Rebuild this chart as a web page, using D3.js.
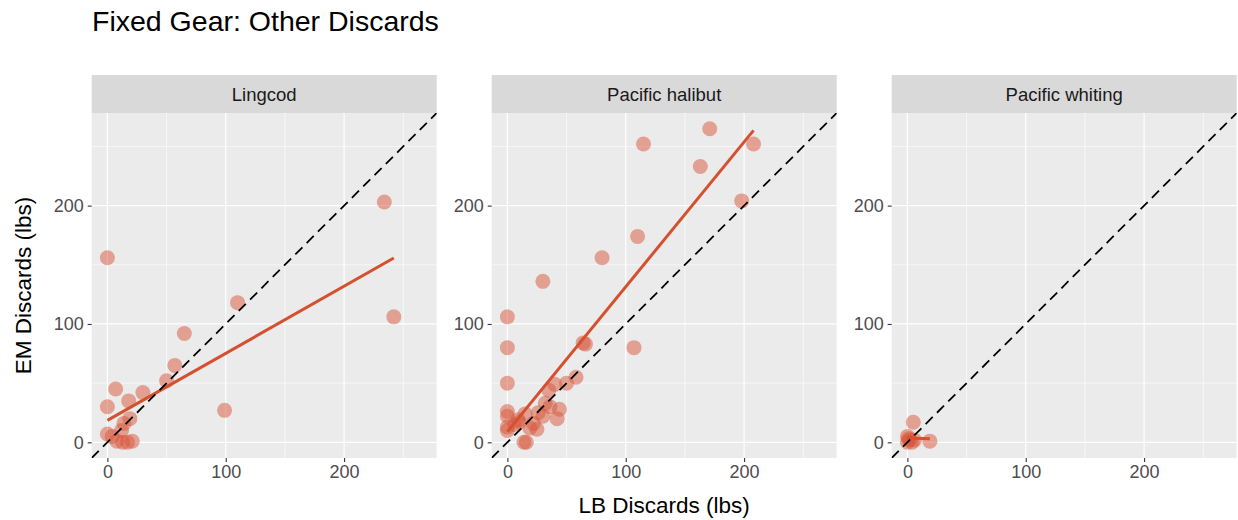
<!DOCTYPE html>
<html>
<head>
<meta charset="utf-8">
<script src="https://cdn.jsdelivr.net/npm/d3@7"></script>
<style>
  html, body { margin: 0; padding: 0; background: #ffffff; }
  svg { display: block; font-family: "Liberation Sans", Arial, sans-serif; }
</style>
</head>
<body>
<svg id="chart" width="1238" height="520"></svg>
<script>
// ---------- data ----------
const titleText = "Fixed Gear: Other Discards";
const species = ["Lingcod", "Pacific halibut", "Pacific whiting"];
const xTitle = "LB Discards (lbs)";
const yTitle = "EM Discards (lbs)";

const lingcodLB = [0, 234, 242, 110, 65, 57, 50, 99, 7, 30, 18, 0, 19, 14, 12, 0, 4, 8, 13, 21, 17];
const lingcodEM = [156, 203, 106, 118, 92, 65, 52, 27, 45, 42, 35, 30, 20, 16, 10, 7, 5, 1, 0, 1, 0];

const halibutLB = [171, 115, 208, 163, 198, 110, 80, 30, 0, 0, 107, 64, 66, 0, 58, 50, 40, 35, 32, 44, 42, 26, 22, 25, 19, 14, 16, 0, 0, 0, 0, 9, 6, 30, 36, 15, 10];
const halibutEM = [265, 252, 252, 233, 204, 174, 156, 136, 106, 80, 80, 84, 83, 50, 55, 50, 49, 44, 33, 28, 20, 25, 16, 11, 12, 0, 0, 26, 22, 13, 10, 19, 15, 22, 30, 24, 17];

const whitingLB = [5, 0, 2, 0, 6, 4, 19, 1];
const whitingEM = [17, 5, 2, 0, 2, 0, 1, 3];

// linear fits (geom_smooth, method = "lm")
const fitIntercept = [18.5, 9, 3.6];
const fitSlope = [0.567, 1.224, -0.03];

const axisLimits = [-13.25, 278.25];
const majorTicks = [0, 100, 200];
const minorTicks = [50, 150, 250];

const panelsData = [
  { lb: lingcodLB, em: lingcodEM },
  { lb: halibutLB, em: halibutEM },
  { lb: whitingLB, em: whitingEM }
];

// ---------- layout ----------
const svg = d3.select("#chart");
const panelW = 345, panelH = 345;
const panelLefts = [91.7, 491.7, 891.7];
const panelTop = 113;
const stripH = 38;

const pointColor = "#d8553a";
const lineColor = "#d4502f";

const x = d3.scaleLinear().domain(axisLimits).range([0, panelW]);
const y = d3.scaleLinear().domain(axisLimits).range([panelH, 0]);

// title
svg.append("text")
  .attr("x", 92).attr("y", 31)
  .attr("font-size", 28.5).attr("fill", "#000")
  .text(titleText);

species.forEach((name, i) => {
  const g = svg.append("g").attr("transform", `translate(${panelLefts[i]},${panelTop})`);
  const d = panelsData[i];

  const clipId = "clip" + i;
  g.append("clipPath").attr("id", clipId)
    .append("rect").attr("width", panelW).attr("height", panelH);

  g.append("rect").attr("width", panelW).attr("height", panelH).attr("fill", "#ebebeb");

  g.selectAll(".minx").data(minorTicks).enter().append("line")
    .attr("x1", v => x(v)).attr("x2", v => x(v)).attr("y1", 0).attr("y2", panelH)
    .attr("stroke", "#fff").attr("stroke-width", 0.6);
  g.selectAll(".miny").data(minorTicks).enter().append("line")
    .attr("y1", v => y(v)).attr("y2", v => y(v)).attr("x1", 0).attr("x2", panelW)
    .attr("stroke", "#fff").attr("stroke-width", 0.6);
  g.selectAll(".majx").data(majorTicks).enter().append("line")
    .attr("x1", v => x(v)).attr("x2", v => x(v)).attr("y1", 0).attr("y2", panelH)
    .attr("stroke", "#fff").attr("stroke-width", 1.2);
  g.selectAll(".majy").data(majorTicks).enter().append("line")
    .attr("y1", v => y(v)).attr("y2", v => y(v)).attr("x1", 0).attr("x2", panelW)
    .attr("stroke", "#fff").attr("stroke-width", 1.2);

  const plot = g.append("g").attr("clip-path", `url(#${clipId})`);

  const pts = d.lb.map((v, k) => [v, d.em[k]]);
  plot.selectAll(".pt").data(pts).enter().append("circle")
    .attr("cx", p => x(p[0])).attr("cy", p => y(p[1]))
    .attr("r", 7.5)
    .attr("fill", pointColor).attr("fill-opacity", 0.5);

  const xmin = d3.min(d.lb), xmax = d3.max(d.lb);
  const fit = [xmin, xmax].map(v => [v, fitIntercept[i] + fitSlope[i] * v]);
  plot.append("path")
    .attr("d", d3.line().x(p => x(p[0])).y(p => y(p[1]))(fit))
    .attr("fill", "none").attr("stroke", lineColor).attr("stroke-width", 3);

  plot.append("path")
    .attr("d", d3.line().x(p => x(p[0])).y(p => y(p[1]))([[axisLimits[0], axisLimits[0]], [axisLimits[1], axisLimits[1]]]))
    .attr("fill", "none").attr("stroke", "#000").attr("stroke-width", 1.8)
    .attr("stroke-dasharray", "10,6");

  g.append("rect").attr("y", -stripH).attr("width", panelW).attr("height", stripH).attr("fill", "#d9d9d9");
  g.append("text")
    .attr("x", panelW / 2).attr("y", -stripH / 2)
    .attr("text-anchor", "middle").attr("dominant-baseline", "central")
    .attr("font-size", 18.5).attr("fill", "#1a1a1a")
    .text(name);

  const xa = g.append("g").attr("transform", `translate(0,${panelH})`)
    .call(d3.axisBottom(x).tickValues(majorTicks).tickSize(4).tickPadding(3));
  xa.select(".domain").remove();
  xa.selectAll(".tick line").attr("stroke", "#333").attr("stroke-width", 1.1);
  xa.selectAll(".tick text").attr("fill", "#4d4d4d").attr("font-size", 18)
    .attr("font-family", "Liberation Sans, Arial, sans-serif");

  const ya = g.append("g")
    .call(d3.axisLeft(y).tickValues(majorTicks).tickSize(4).tickPadding(4));
  ya.select(".domain").remove();
  ya.selectAll(".tick line").attr("stroke", "#333").attr("stroke-width", 1.1);
  ya.selectAll(".tick text").attr("fill", "#4d4d4d").attr("font-size", 18)
    .attr("font-family", "Liberation Sans, Arial, sans-serif");
});

svg.append("text")
  .attr("x", panelLefts[1] + panelW / 2).attr("y", 513)
  .attr("text-anchor", "middle").attr("font-size", 22.5).attr("fill", "#000")
  .text(xTitle);

svg.append("text")
  .attr("transform", `translate(31,${panelTop + panelH / 2}) rotate(-90)`)
  .attr("text-anchor", "middle").attr("font-size", 22.5).attr("fill", "#000")
  .text(yTitle);
</script>
</body>
</html>
